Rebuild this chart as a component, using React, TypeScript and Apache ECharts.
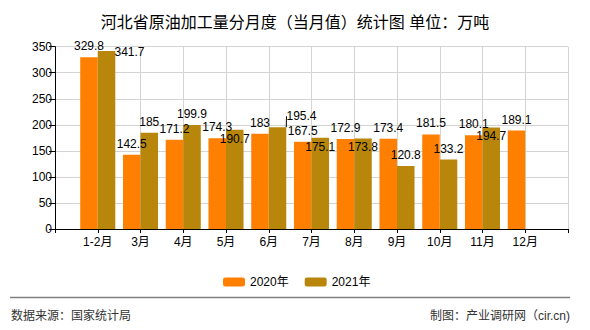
import React, { useEffect, useRef } from "react";
import * as echarts from "echarts";

const categories = ["1-2月", "3月", "4月", "5月", "6月", "7月", "8月", "9月", "10月", "11月", "12月"];
const values2020 = [329.8, 142.5, 171.2, 174.3, 183, 167.5, 172.9, 173.4, 181.5, 180.1, 189.1];
const values2021: (number | null)[] = [341.7, 185, 199.9, 190.7, 195.4, 175.1, 173.8, 120.8, 133.2, 194.7, null];
const seriesNames = ["2020年", "2021年"];
const yMin = 0;
const yMax = 350;
const yInterval = 50;

// label nudges (style only), per category of 2021
const labelShift2021: [number, number][] = [
  [23, 12], [0, 0], [0, 0], [0, 20], [24, 0], [0, 20], [0, 20], [0, 0], [0, 0], [0, 19], [0, 0],
];
const labelLineIndex2021 = 4;

const CJK = "'Liberation Sans', 'Noto Sans CJK SC', sans-serif";

export default function App() {
  const ref = useRef<HTMLDivElement>(null);
  useEffect(() => {
    document.body.style.margin = "0";
    if (!ref.current) return;
    const chart = echarts.init(ref.current, undefined, { renderer: "svg" });
    const cats = ["", ...categories, ""];
    const d2020 = [null, ...values2020, null];
    const d2021 = [
      null,
      ...values2021.map((v, i) => ({
        value: v,
        labelLine: { show: i === labelLineIndex2021 },
      })),
      null,
    ];
    const labelBase = {
      show: true,
      position: "top",
      distance: 5,
      color: "#000",
      fontSize: 12,
      fontFamily: "'Liberation Sans', sans-serif",
    };
    chart.setOption({
      animation: false,
      backgroundColor: "#fff",
      title: {
        text: "河北省原油加工量分月度（当月值）统计图 单位：万吨",
        left: "center",
        top: 9,
        textStyle: { fontSize: 16, fontWeight: "normal", color: "#000", fontFamily: CJK },
      },
      legend: {
        data: seriesNames,
        left: 218,
        top: 271,
        itemWidth: 22,
        itemHeight: 9,
        itemGap: 16,
        textStyle: { fontSize: 12, color: "#000", fontFamily: CJK },
      },
      grid: { left: 55, right: 22, top: 46.7, bottom: 101, containLabel: false },
      xAxis: {
        type: "category",
        data: cats,
        boundaryGap: false,
        axisLine: { show: true, lineStyle: { color: "#000", width: 1 } },
        axisTick: { show: true, interval: 0, length: 4, lineStyle: { color: "#000" } },
        axisLabel: { interval: 0, color: "#000", fontSize: 12, margin: 7, fontFamily: CJK },
        splitLine: { show: true, interval: 0, lineStyle: { color: "#d3d3d3", width: 1 } },
      },
      yAxis: {
        type: "value",
        min: yMin,
        max: yMax,
        interval: yInterval,
        axisLine: { show: true, lineStyle: { color: "#000", width: 1 } },
        axisTick: { show: true, length: 6, lineStyle: { color: "#000" } },
        axisLabel: { color: "#000", fontSize: 12, margin: 3, fontFamily: "'Liberation Sans', sans-serif" },
        splitLine: { show: true, lineStyle: { color: "#d3d3d3", width: 1 } },
      },
      series: [
        {
          name: seriesNames[0],
          type: "bar",
          data: d2020,
          barGap: "0%",
          barCategoryGap: "18%",
          itemStyle: { color: "#FF8000" },
          label: labelBase,
        },
        {
          name: seriesNames[1],
          type: "bar",
          data: d2021,
          barGap: "0%",
          barCategoryGap: "18%",
          itemStyle: { color: "#B8860B" },
          label: labelBase,
          labelLine: { show: true, lineStyle: { color: "#000", width: 1 } },
          labelLayout: (p: any) => {
            const s = labelShift2021[p.dataIndex - 1];
            return s ? { dx: s[0], dy: s[1] } : {};
          },
        },
      ],
      graphic: [
        {
          type: "line",
          shape: { x1: 10, y1: 297.5, x2: 570, y2: 297.5 },
          style: { stroke: "#808080", lineWidth: 1.5 },
        },
        {
          type: "text",
          x: 11,
          y: 316,
          style: {
            text: "数据来源：国家统计局",
            fontSize: 12,
            fill: "#333",
            fontFamily: CJK,
            verticalAlign: "middle",
          },
        },
        {
          type: "text",
          x: 570,
          y: 316,
          style: {
            text: "制图：产业调研网（cir.cn)",
            fontSize: 12,
            fill: "#333",
            fontFamily: CJK,
            align: "right",
            verticalAlign: "middle",
          },
        },
      ],
    });
    return () => chart.dispose();
  }, []);
  return (
    <div
      ref={ref}
      style={{ width: 590, height: 330, position: "absolute", left: 0, top: 0 }}
    />
  );
}
